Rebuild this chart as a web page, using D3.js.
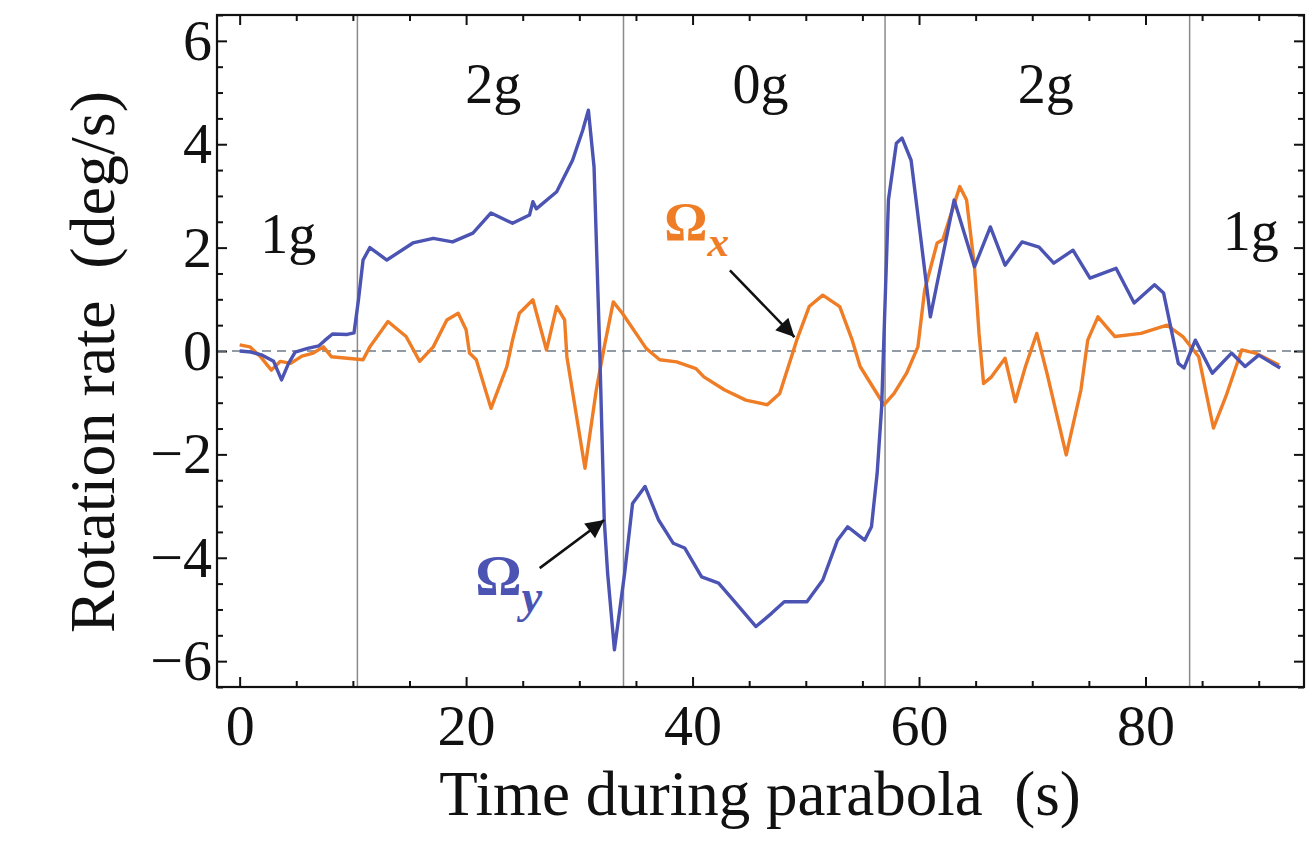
<!DOCTYPE html>
<html>
<head>
<meta charset="utf-8">
<script src="https://cdn.jsdelivr.net/npm/d3@7"></script>
<style>
  html, body { margin: 0; padding: 0; background: #fff; }
  text { font-family: "Liberation Serif", "Times New Roman", serif; }
</style>
</head>
<body>
<div id="chart"></div>
<script>
// rotation rate about x and y during one parabolic flight
const omegaY = [
  [0, 0], [1, -0.02], [2, -0.08], [3, -0.2], [3.7, -0.56], [4.3, -0.25], [4.9, -0.02],
  [6, 0.05], [7, 0.1], [7.5, 0.2], [8.2, 0.33], [9.5, 0.32], [10.1, 0.35], [10.5, 1.0],
  [10.9, 1.76], [11.5, 2.0], [13.0, 1.76], [15.3, 2.09], [17.1, 2.18], [18.8, 2.11],
  [20.6, 2.28], [22.2, 2.67], [24.1, 2.47], [25.6, 2.63], [25.9, 2.89], [26.2, 2.75],
  [28.0, 3.08], [29.4, 3.69], [30.3, 4.27], [30.8, 4.66], [31.3, 3.56], [31.8, 0.02],
  [32.2, -3.27], [32.5, -4.3], [33.1, -5.78], [34.0, -4.3], [34.7, -2.95], [35.8, -2.62],
  [37.0, -3.27], [38.3, -3.72], [39.3, -3.81], [40.8, -4.37], [42.3, -4.49], [43.6, -4.82],
  [45.6, -5.33], [47.0, -5.07], [48.1, -4.85], [50.1, -4.85], [51.5, -4.43], [52.8, -3.66],
  [53.7, -3.40], [55.2, -3.66], [55.8, -3.40], [56.3, -2.37], [56.7, -1.08], [57.3, 2.92],
  [58.0, 4.02], [58.5, 4.12], [59.3, 3.69], [60.1, 2.28], [61.0, 0.66], [61.6, 1.31],
  [63.1, 2.92], [64.0, 2.28], [64.9, 1.63], [66.3, 2.40], [67.6, 1.66], [69.1, 2.11],
  [70.6, 2.01], [71.9, 1.70], [73.6, 1.95], [75.1, 1.41], [77.4, 1.60], [79.0, 0.93],
  [80.8, 1.28], [81.6, 1.12], [82.9, -0.24], [83.4, -0.33], [84.4, 0.21], [85.9, -0.43],
  [87.6, -0.04], [88.8, -0.30], [90.0, -0.08], [91.9, -0.33]
];

const omegaX = [
  [0, 0.12], [0.9, 0.08], [1.8, -0.1], [2.8, -0.37], [3.6, -0.2], [4.5, -0.24], [5.5, -0.1],
  [6.5, -0.04], [7.4, 0.08], [8.1, -0.11], [9.5, -0.14], [10.9, -0.17], [11.5, 0.08],
  [13.1, 0.57], [14.7, 0.28], [15.9, -0.2], [17.1, 0.08], [18.3, 0.60], [19.3, 0.73],
  [20.0, 0.41], [20.3, -0.04], [20.9, -0.17], [22.2, -1.11], [23.6, -0.30], [24.1, 0.21],
  [24.7, 0.73], [25.9, 0.99], [27.1, 0.02], [28.0, 0.86], [28.7, 0.60], [28.9, -0.11],
  [30.5, -2.27], [31.5, -0.75], [32.2, 0.08], [33.0, 0.95], [33.8, 0.73], [35.9, 0.05],
  [37.1, -0.17], [38.6, -0.21], [40.3, -0.34], [41.0, -0.50], [42.8, -0.75], [44.7, -0.95],
  [46.6, -1.04], [47.7, -0.82], [49.2, 0.21], [50.3, 0.86], [51.5, 1.08], [53.0, 0.86],
  [54.1, 0.21], [54.8, -0.30], [56.9, -1.04], [57.8, -0.82], [58.9, -0.43], [59.9, 0.08],
  [60.5, 1.18], [61.6, 2.09], [62.1, 2.15], [63.6, 3.18], [64.2, 2.92], [64.9, 1.63],
  [65.3, 0.34], [65.7, -0.63], [66.4, -0.50], [67.6, -0.14], [68.5, -0.98], [69.4, -0.30],
  [70.2, 0.21], [70.4, 0.34], [71.3, -0.43], [73.0, -2.01], [74.3, -0.75], [74.9, 0.21],
  [75.8, 0.66], [77.3, 0.28], [79.6, 0.34], [81.9, 0.50], [83.3, 0.28], [84.7, -0.11],
  [86.0, -1.49], [87.1, -0.88], [88.5, 0.02], [89.7, -0.04], [90.9, -0.17], [91.8, -0.27]
];

// boundaries between flight phases (s) and the phase names
const phaseBounds = [10.4, 33.9, 57.0, 83.9];
const phaseNames = ["1g", "2g", "0g", "2g", "1g"];

const xTicks = [0, 20, 40, 60, 80];
const yTicks = [-6, -4, -2, 0, 2, 4, 6];

(function () {
  const W = 1307, H = 847;
  const margin = { top: 15, right: 3, bottom: 160, left: 217 };
  const innerW = W - margin.left - margin.right;
  const innerH = H - margin.top - margin.bottom;

  const blue = "#4b53b3";
  const orange = "#ef7d26";

  const svg = d3.select("#chart").append("svg")
    .attr("width", W).attr("height", H);

  svg.append("rect").attr("width", W).attr("height", H).attr("fill", "#fff");

  const g = svg.append("g")
    .attr("transform", `translate(${margin.left},${margin.top})`);

  const x = d3.scaleLinear().domain([-2, 94]).range([0, innerW]);
  const y = d3.scaleLinear().domain([-6.5, 6.5]).range([innerH, 0]);

  const minorX = d3.range(0, 95, 5).filter(d => !xTicks.includes(d));
  const minorY = d3.range(-6.5, 6.51, 0.5).filter(d => !yTicks.includes(d));

  // ticks point inward on all four sides
  g.append("g").attr("transform", `translate(0,${innerH})`)
    .call(d3.axisBottom(x).tickValues(xTicks).tickSize(-10).tickPadding(17).tickFormat(d3.format("d")));
  g.append("g").attr("transform", `translate(0,${innerH})`)
    .call(d3.axisBottom(x).tickValues(minorX).tickSize(-6).tickFormat(""));
  g.append("g")
    .call(d3.axisTop(x).tickValues(xTicks).tickSize(-10).tickFormat(""));
  g.append("g")
    .call(d3.axisTop(x).tickValues(minorX).tickSize(-6).tickFormat(""));

  g.append("g")
    .call(d3.axisLeft(y).tickValues(yTicks).tickSize(-10).tickPadding(5).tickFormat(d3.format("d")));
  g.append("g")
    .call(d3.axisLeft(y).tickValues(minorY).tickSize(-6).tickFormat(""));
  g.append("g").attr("transform", `translate(${innerW},0)`)
    .call(d3.axisRight(y).tickValues(yTicks).tickSize(-10).tickFormat(""));
  g.append("g").attr("transform", `translate(${innerW},0)`)
    .call(d3.axisRight(y).tickValues(minorY).tickSize(-6).tickFormat(""));

  g.selectAll(".domain").remove();
  g.selectAll(".tick line").attr("stroke", "#111").attr("stroke-width", 2);
  g.selectAll(".tick text")
    .attr("fill", "#111")
    .style("font-family", "'Liberation Serif', serif")
    .style("font-size", "58px");

  // phase separators and zero line
  g.selectAll("line.phase")
    .data(phaseBounds)
    .join("line")
    .attr("class", "phase")
    .attr("x1", d => x(d)).attr("x2", d => x(d))
    .attr("y1", 0).attr("y2", innerH)
    .attr("stroke", "#8a8a8a").attr("stroke-width", 1.5);

  g.append("line")
    .attr("x1", 0).attr("x2", innerW)
    .attr("y1", y(0)).attr("y2", y(0))
    .attr("stroke", "#6f7a86").attr("stroke-width", 1.5)
    .attr("stroke-dasharray", "9,6");

  const line = d3.line().x(d => x(d[0])).y(d => y(d[1]));

  g.append("path").datum(omegaX)
    .attr("d", line).attr("fill", "none")
    .attr("stroke", orange).attr("stroke-width", 3.4)
    .attr("stroke-linejoin", "round");

  g.append("path").datum(omegaY)
    .attr("d", line).attr("fill", "none")
    .attr("stroke", blue).attr("stroke-width", 3.4)
    .attr("stroke-linejoin", "round");

  // frame
  g.append("rect")
    .attr("width", innerW).attr("height", innerH)
    .attr("fill", "none").attr("stroke", "#111").attr("stroke-width", 2.2);

  // phase names
  const phaseLabelPos = [[4.3, 1.9], [22.4, 4.8], [46.0, 4.8], [71.2, 4.8], [89.3, 1.95]];
  g.selectAll("text.phase")
    .data(phaseNames)
    .join("text")
    .attr("class", "phase")
    .attr("x", (d, i) => x(phaseLabelPos[i][0]))
    .attr("y", (d, i) => y(phaseLabelPos[i][1]))
    .attr("text-anchor", "middle")
    .attr("fill", "#111")
    .style("font-size", "56px")
    .text(d => d);

  // series annotations with arrows
  svg.append("defs").append("marker")
    .attr("id", "head")
    .attr("viewBox", "0 0 10 10")
    .attr("refX", 10).attr("refY", 5)
    .attr("markerWidth", 8).attr("markerHeight", 7)
    .attr("markerUnits", "strokeWidth")
    .attr("orient", "auto")
    .append("path").attr("d", "M0,0L10,5L0,10z").attr("fill", "#111");

  const notes = [
    { name: "x", color: orange, at: [37.5, 2.15], size: 54, from: [43.3, 1.56], to: [49.0, 0.27] },
    { name: "y", color: blue, at: [20.8, -4.72], size: 58, from: [26.5, -4.20], to: [32.2, -3.27] }
  ];

  notes.forEach(n => {
    const t = g.append("text")
      .attr("x", x(n.at[0])).attr("y", y(n.at[1]))
      .attr("fill", n.color)
      .style("font-weight", "bold")
      .style("font-size", n.size + "px");
    t.append("tspan").text("Ω");
    t.append("tspan")
      .attr("dy", n.size * 0.3)
      .style("font-style", "italic")
      .style("font-size", (n.size * 0.8) + "px")
      .text(n.name);

    g.append("line")
      .attr("x1", x(n.from[0])).attr("y1", y(n.from[1]))
      .attr("x2", x(n.to[0])).attr("y2", y(n.to[1]))
      .attr("stroke", "#111").attr("stroke-width", 2.6)
      .attr("marker-end", "url(#head)");
  });

  // axis titles
  svg.append("text")
    .attr("x", 760).attr("y", 815)
    .attr("text-anchor", "middle")
    .attr("fill", "#111")
    .style("font-size", "63px")
    .style("white-space", "pre")
    .text("Time during parabola  (s)");

  svg.append("text")
    .attr("transform", "translate(114,362) rotate(-90)")
    .attr("text-anchor", "middle")
    .attr("fill", "#111")
    .style("font-size", "64px")
    .style("white-space", "pre")
    .text("Rotation rate  (deg/s)");
})();
</script>
</body>
</html>
